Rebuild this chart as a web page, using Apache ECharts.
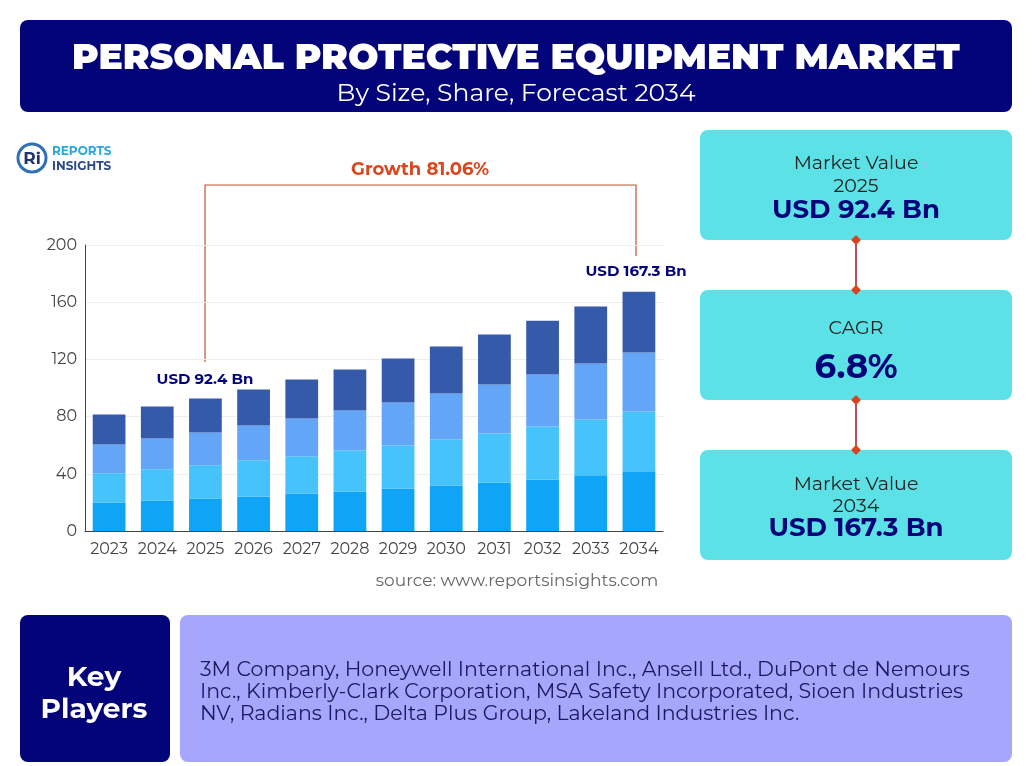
<!DOCTYPE html>
<html>
<head>
<meta charset="utf-8">
<title>PPE Market</title>
<script src="https://cdn.jsdelivr.net/npm/echarts@6/dist/echarts.min.js"></script>
<style>body{margin:0;background:#fff}#main{width:1032px;height:766px}</style>
</head>
<body>
<div id="main"></div>
<script>
// data
var years = ['2023','2024','2025','2026','2027','2028','2029','2030','2031','2032','2033','2034'];
var seg1 = [20,21.4,22.8,24.2,26.3,27.7,29.8,31.9,34,36.1,38.9,41.7];
var seg2 = [20.3,21.7,23.1,25.2,25.9,28.6,30,32.1,34.2,37,39.1,41.9];
var seg3 = [20.2,21.6,23,24.4,26.5,28,30.1,32.2,34.2,36.3,39.1,41.2];
var seg4 = [21,22.4,23.8,25.2,27.3,28.7,30.7,32.8,35,37.6,39.9,42.5];
var segColors = ['#0fa4f6','#47c3fb','#63a5f6','#355aa9'];
var players = '3M Company, Honeywell International Inc., Ansell Ltd., DuPont de Nemours\nInc., Kimberly-Clark Corporation, MSA Safety Incorporated, Sioen Industries\nNV, Radians Inc., Delta Plus Group, Lakeland Industries Inc.';

var myChart = echarts.init(document.getElementById('main'));
var F = 'Montserrat, Poppins, "Open Sans", sans-serif';
var navy = '#03037a', cyan = '#5ce1e6';

function box(x, y, w, h, fill, r) {
    return {type:'rect', shape:{x:x,y:y,width:w,height:h,r:r}, style:{fill:fill}};
}
function txt(x, y, t, size, color, weight, align) {
    return {type:'text', x:x, y:y, style:{text:t, fontSize:size, fill:color, fontWeight:weight||'normal',
        fontFamily:F, align:align||'center', verticalAlign:'middle', lineHeight:size*1.1}};
}
function dot(x, y) {
    return {type:'rect', x:x, y:y, rotation:Math.PI/4, shape:{x:-3.5,y:-3.5,width:7,height:7}, style:{fill:'#d9431f'}};
}

var graphics = [
    box(20,20,992,92,navy,8),
    txt(516,58,'PERSONAL PROTECTIVE EQUIPMENT MARKET',36,'#fff','900'),
    txt(516,94,'By Size, Share, Forecast 2034',25,'#fff'),
    // logo
    {type:'circle', shape:{cx:32,cy:158,r:14}, style:{fill:'none',stroke:'#2f6fb8',lineWidth:3}},
    txt(32,159,'Ri',17,'#22336b','bold'),
    txt(52,151,'REPORTS',12,'#2aa7df','bold','left'),
    txt(52,166,'INSIGHTS',12,'#2d4a86','bold','left'),
    // growth bracket
    {type:'polyline', shape:{points:[[205,362],[205,185],[636,185],[636,256]]}, style:{stroke:'#c0572b',lineWidth:1.2,fill:null}},
    txt(420,170,'Growth 81.06%',18,'#d9471f','bold'),
    txt(205,380,'USD 92.4 Bn',15,navy,'bold'),
    txt(636,272,'USD 167.3 Bn',15,navy,'bold'),
    txt(517,581,'source: www.reportsinsights.com',17,'#666'),
    // right panels
    {type:'line', shape:{x1:856,y1:240,x2:856,y2:450}, style:{stroke:'#9b1c1c',lineWidth:1.5}},
    box(700,130,312,110,cyan,8),
    box(700,290,312,110,cyan,8),
    box(700,450,312,110,cyan,8),
    dot(856,240),dot(856,290),dot(856,400),dot(856,450),
    txt(856,163,'Market Value',19,'#222'),
    txt(856,186,'2025',19,'#222'),
    txt(856,210,'USD 92.4 Bn',26,navy,'bold'),
    txt(856,328,'CAGR',19,'#222'),
    txt(856,368,'6.8%',34,navy,'bold'),
    txt(856,484,'Market Value',19,'#222'),
    txt(856,506,'2034',19,'#222'),
    txt(856,528,'USD 167.3 Bn',26,navy,'bold'),
    // bottom
    box(20,615,150,147,navy,8),
    txt(94,678,'Key',28,'#fff','bold'),
    txt(94,710,'Players',28,'#fff','bold'),
    box(180,615,832,147,'#a6a6fc',8),
    {type:'text', x:200, y:692, style:{text:players, fontSize:20.5, fill:'#1a1a5e', fontFamily:F,
        align:'left', verticalAlign:'middle', lineHeight:22}}
];

var names = ['Segment 1','Segment 2','Segment 3','Segment 4'];
var data = [seg1, seg2, seg3, seg4];
var series = data.map(function (d, i) {
    return {name:names[i], type:'bar', stack:'total', data:d, barWidth:'68%',
        itemStyle:{color:segColors[i]}};
});

var option = {
    animation: false,
    grid: {left:85, right:369, top:245, bottom:235, containLabel:false},
    xAxis: {type:'category', data:years,
        axisLine:{lineStyle:{color:'#444'}}, axisTick:{show:false},
        axisLabel:{color:'#444', fontSize:16, fontFamily:F, margin:10, interval:0}},
    yAxis: {type:'value', min:0, max:200, interval:40,
        axisLine:{show:true, lineStyle:{color:'#444'}},
        splitLine:{lineStyle:{color:'#eee'}},
        axisLabel:{color:'#444', fontSize:16, fontFamily:F}},
    series: series,
    graphic: graphics
};
myChart.setOption(option);
</script>
</body>
</html>
